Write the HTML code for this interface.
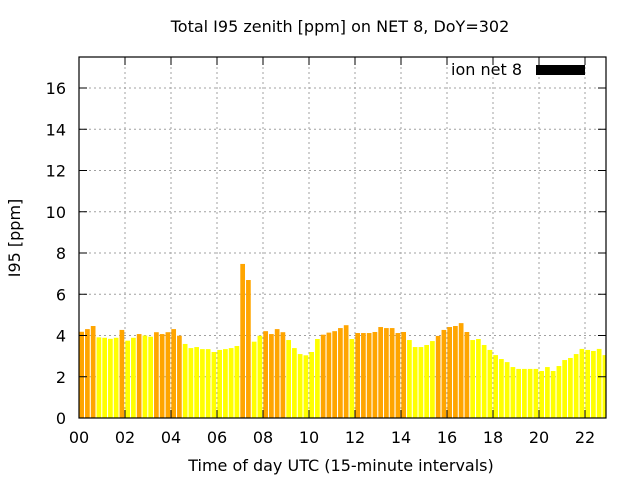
<!DOCTYPE html>
<html><head><meta charset="utf-8"><style>
body{margin:0;background:#fff;}
svg{display:block;font-family:"DejaVu Sans","Liberation Sans",sans-serif;}
</style></head><body>
<svg id="chart" width="640" height="480" xmlns="http://www.w3.org/2000/svg">
<rect width="640" height="480" fill="#fff"/>
<text x="340" y="32" text-anchor="middle" font-size="16">Total I95 zenith [ppm] on NET 8, DoY=302</text>
<text x="20" y="238" text-anchor="middle" font-size="16" transform="rotate(-90 20 238)">I95 [ppm]</text>
<text x="341" y="471" text-anchor="middle" font-size="16">Time of day UTC (15-minute intervals)</text>
<g id="grid"></g><g id="bars"></g><g id="axes"></g>
<g>
<text x="522" y="75" text-anchor="end" font-size="16">ion net 8</text>
<rect x="536" y="65" width="49" height="10" fill="#000"/>
</g>
</svg>
<script>
const values=[4.18,4.31,4.46,3.91,3.89,3.84,3.89,4.27,3.75,3.89,4.07,4.0,3.94,4.16,4.07,4.16,4.31,3.99,3.59,3.39,3.44,3.34,3.34,3.2,3.3,3.34,3.39,3.49,7.47,6.69,3.7,3.99,4.21,4.07,4.31,4.16,3.78,3.39,3.1,3.04,3.2,3.83,4.04,4.14,4.21,4.36,4.5,3.83,4.12,4.12,4.12,4.17,4.41,4.36,4.36,4.12,4.17,3.78,3.44,3.44,3.54,3.73,3.98,4.27,4.41,4.46,4.6,4.17,3.78,3.83,3.54,3.3,3.05,2.86,2.71,2.47,2.38,2.38,2.38,2.38,2.28,2.47,2.28,2.52,2.81,2.91,3.1,3.35,3.3,3.25,3.35,3.05];
const flags="oooyyyyoyyoyyooooo"+"yyyyyyyyyy"+"ooyy"+"oooo"+"yyyyyy"+"ooooo"+"y"+"ooooooooo"+"yyyyy"+"oooooo"+"yyyyyyyyyyyyyyyyyyyyyyyy";
const yTicks=[0,2,4,6,8,10,12,14,16];
const xTickLabels=["00","02","04","06","08","10","12","14","16","18","20","22"];
const L=79,R=606,T=57,B=418;
const ys=v=>B-v*(B-88)/16;
const slot=5.75;
const xs=i=>L+slot*i;
const NS="http://www.w3.org/2000/svg";
function mk(tag,attrs,parent){const e=document.createElementNS(NS,tag);for(const k in attrs)e.setAttribute(k,attrs[k]);parent.appendChild(e);return e;}
const grid=document.getElementById('grid'),bars=document.getElementById('bars'),axes=document.getElementById('axes');
yTicks.forEach(v=>{const y=ys(v);
 if(v>0){const g=mk('line',{x1:L,x2:R,y1:y,y2:y,stroke:'#a0a0a0','stroke-dasharray':'2,3'},grid);
 
 }
 mk('line',{x1:L,x2:L+8,y1:y,y2:y,stroke:'#000'},axes);
 mk('line',{x1:R,x2:R-8,y1:y,y2:y,stroke:'#000'},axes);
 const t=mk('text',{x:L-13,y:y+6,'text-anchor':'end','font-size':16},axes);t.textContent=v;
 
 
});
xTickLabels.forEach((lab,k)=>{const x=xs(k*8);
 if(k>0){const g=mk('line',{x1:x,x2:x,y1:T,y2:B,stroke:'#a0a0a0','stroke-dasharray':'2,3'},grid);
 
 }
 mk('line',{x1:x,x2:x,y1:B,y2:B-8,stroke:'#000'},axes);
 mk('line',{x1:x,x2:x,y1:T,y2:T+8,stroke:'#000'},axes);
 const t=mk('text',{x:x,y:B+25,'text-anchor':'middle','font-size':16},axes);t.textContent=lab;
 
 
});
values.forEach((v,i)=>{const x=xs(i)+0.3;const w=Math.min(4.7,R-x);if(w<=0)return;
 const b=mk('rect',{x:x,y:ys(v),width:w,height:B-ys(v),fill:flags[i]==='o'?'#ffa500':'#ffff00'},bars);
 
 
});
const f=mk('rect',{x:L,y:T,width:R-L,height:B-T,fill:'none',stroke:'#000','stroke-width':1.2},axes);


</script>
</body></html>
